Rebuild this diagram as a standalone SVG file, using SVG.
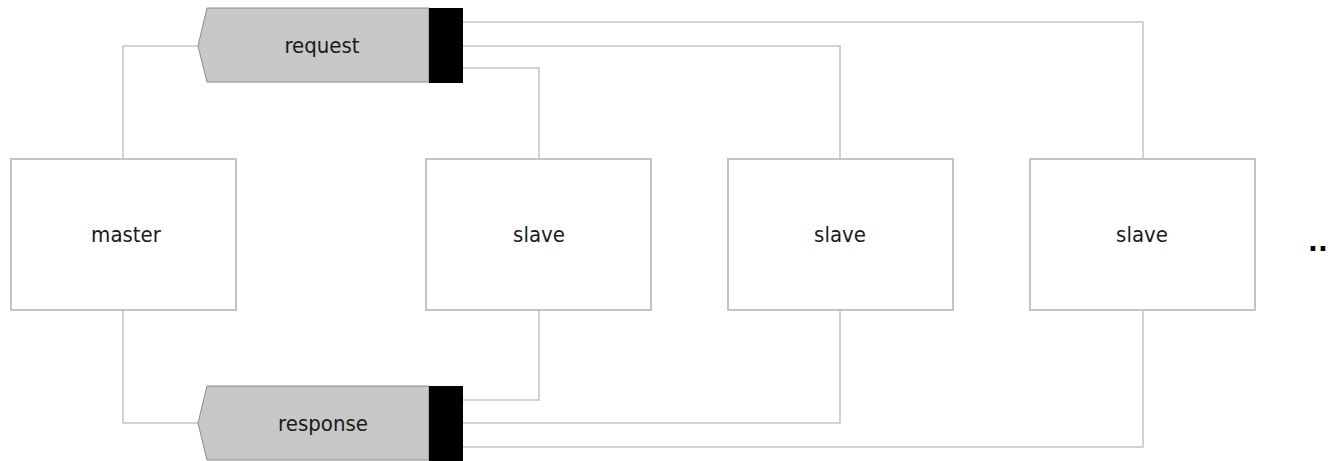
<svg xmlns="http://www.w3.org/2000/svg" width="1330" height="461" viewBox="0 0 1330 461">
<style>
.box{fill:#fff;stroke:#c4c4c4;stroke-width:2}
.q{fill:#c8c8c8;stroke:#8a8a8a;stroke-width:1}
.blk{fill:#000}
.ln{fill:none;stroke:#c4c4c4;stroke-width:1.5}
.t{font-family:"DejaVu Sans Condensed","DejaVu Sans",sans-serif;font-size:22px;fill:#1a1a1a;text-anchor:middle}
</style>
<rect width="1330" height="461" fill="#fff"/>
<g id="connectors">
<polyline class="ln" points="463,22 1143,22 1143,158"/>
<polyline class="ln" points="463,46 840,46 840,158"/>
<polyline class="ln" points="463,68 539,68 539,158"/>
<polyline class="ln" points="539,310 539,400 463,400"/>
<polyline class="ln" points="840,310 840,423 463,423"/>
<polyline class="ln" points="1143,310 1143,447 463,447"/>
<polyline class="ln" points="123,158 123,46 198,46"/>
<polyline class="ln" points="123,310 123,423 198,423"/>
</g>
<g id="request">
<path class="q" d="M207,8 L429,8 L429,82 L207,82 L198,46 Z"/>
<rect class="blk" x="429" y="8" width="34" height="75"/>
<text class="t" x="322" y="53">request</text>
</g>
<g id="response">
<path class="q" d="M207,386 L429,386 L429,460 L207,460 L198,423 Z"/>
<rect class="blk" x="429" y="386" width="34" height="75"/>
<text class="t" x="323" y="431">response</text>
</g>
<g id="master">
<rect class="box" x="11" y="159" width="225" height="151"/>
<text class="t" x="126" y="242">master</text>
</g>
<g id="slave1">
<rect class="box" x="426" y="159" width="225" height="151"/>
<text class="t" x="539" y="242">slave</text>
</g>
<g id="slave2">
<rect class="box" x="728" y="159" width="225" height="151"/>
<text class="t" x="840" y="242">slave</text>
</g>
<g id="slave3">
<rect class="box" x="1030" y="159" width="225" height="151"/>
<text class="t" x="1142" y="242">slave</text>
</g>
<g id="more">
<text x="1318" y="251" style="font-family:'DejaVu Sans',sans-serif;font-size:26px;font-weight:bold;fill:#000;text-anchor:middle">..</text>
</g>
</svg>
